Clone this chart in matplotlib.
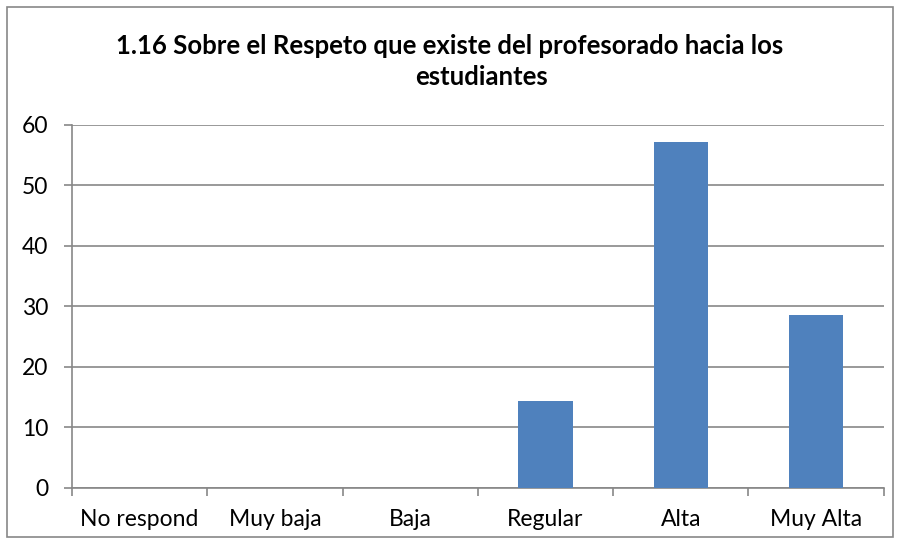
import matplotlib
matplotlib.use('Agg')
import matplotlib.pyplot as plt
from matplotlib.patches import Rectangle
import numpy as np

# datos
categorias = ["No respond", "Muy baja", "Baja", "Regular", "Alta", "Muy Alta"]
porcentajes = [0, 0, 0, 14.29, 57.14, 28.57]
yticks = [0, 10, 20, 30, 40, 50, 60]
titulo1 = "1.16 Sobre el Respeto que existe del profesorado hacia los"
titulo2 = "estudiantes"

plt.rcParams['font.family'] = ['Lato', 'DejaVu Sans']
gris = '#878787'

fig = plt.figure(figsize=(9, 5.44), dpi=100)
ax = fig.add_axes([0.08, 0.103, 0.902, 0.668])

x = np.arange(len(categorias))
ax.bar(x, porcentajes, width=0.4, color='#4F81BD', zorder=3)

ax.set_xlim(-0.5, len(categorias) - 0.5)
ax.set_ylim(0, 60)
ax.set_yticks(yticks)
ax.set_yticklabels([str(v) for v in yticks], fontsize=16.5)
ax.grid(axis='y', color=gris, linewidth=1.2, zorder=0)

# ticks del eje x en los limites de categoria, etiquetas al centro
ax.set_xticks(np.arange(len(categorias) + 1) - 0.5)
ax.set_xticklabels([])
ax.set_xticks(x, minor=True)
ax.set_xticklabels(categorias, minor=True, fontsize=16.5)
ax.tick_params(axis='x', which='major', length=6, color=gris, width=1.2, direction='out')
ax.tick_params(axis='x', which='minor', length=0, pad=15)
ax.tick_params(axis='y', length=6, color=gris, width=1.2, pad=11)

for s in ['top', 'right']:
    ax.spines[s].set_visible(False)
for s in ['left', 'bottom']:
    ax.spines[s].set_color(gris)
    ax.spines[s].set_linewidth(1.2)

fig.text(450 / 900, 1 - 46 / 544, titulo1, ha='center', va='center',
         fontsize=18.5, fontweight='bold')
fig.text(481 / 900, 1 - 77 / 544, titulo2, ha='center', va='center',
         fontsize=18.5, fontweight='bold')

fig.patches.append(Rectangle((7 / 900, 7 / 544), 886 / 900, 530 / 544,
                             transform=fig.transFigure, fill=False,
                             edgecolor=gris, linewidth=1.2))

plt.savefig('out.png', dpi=100)
